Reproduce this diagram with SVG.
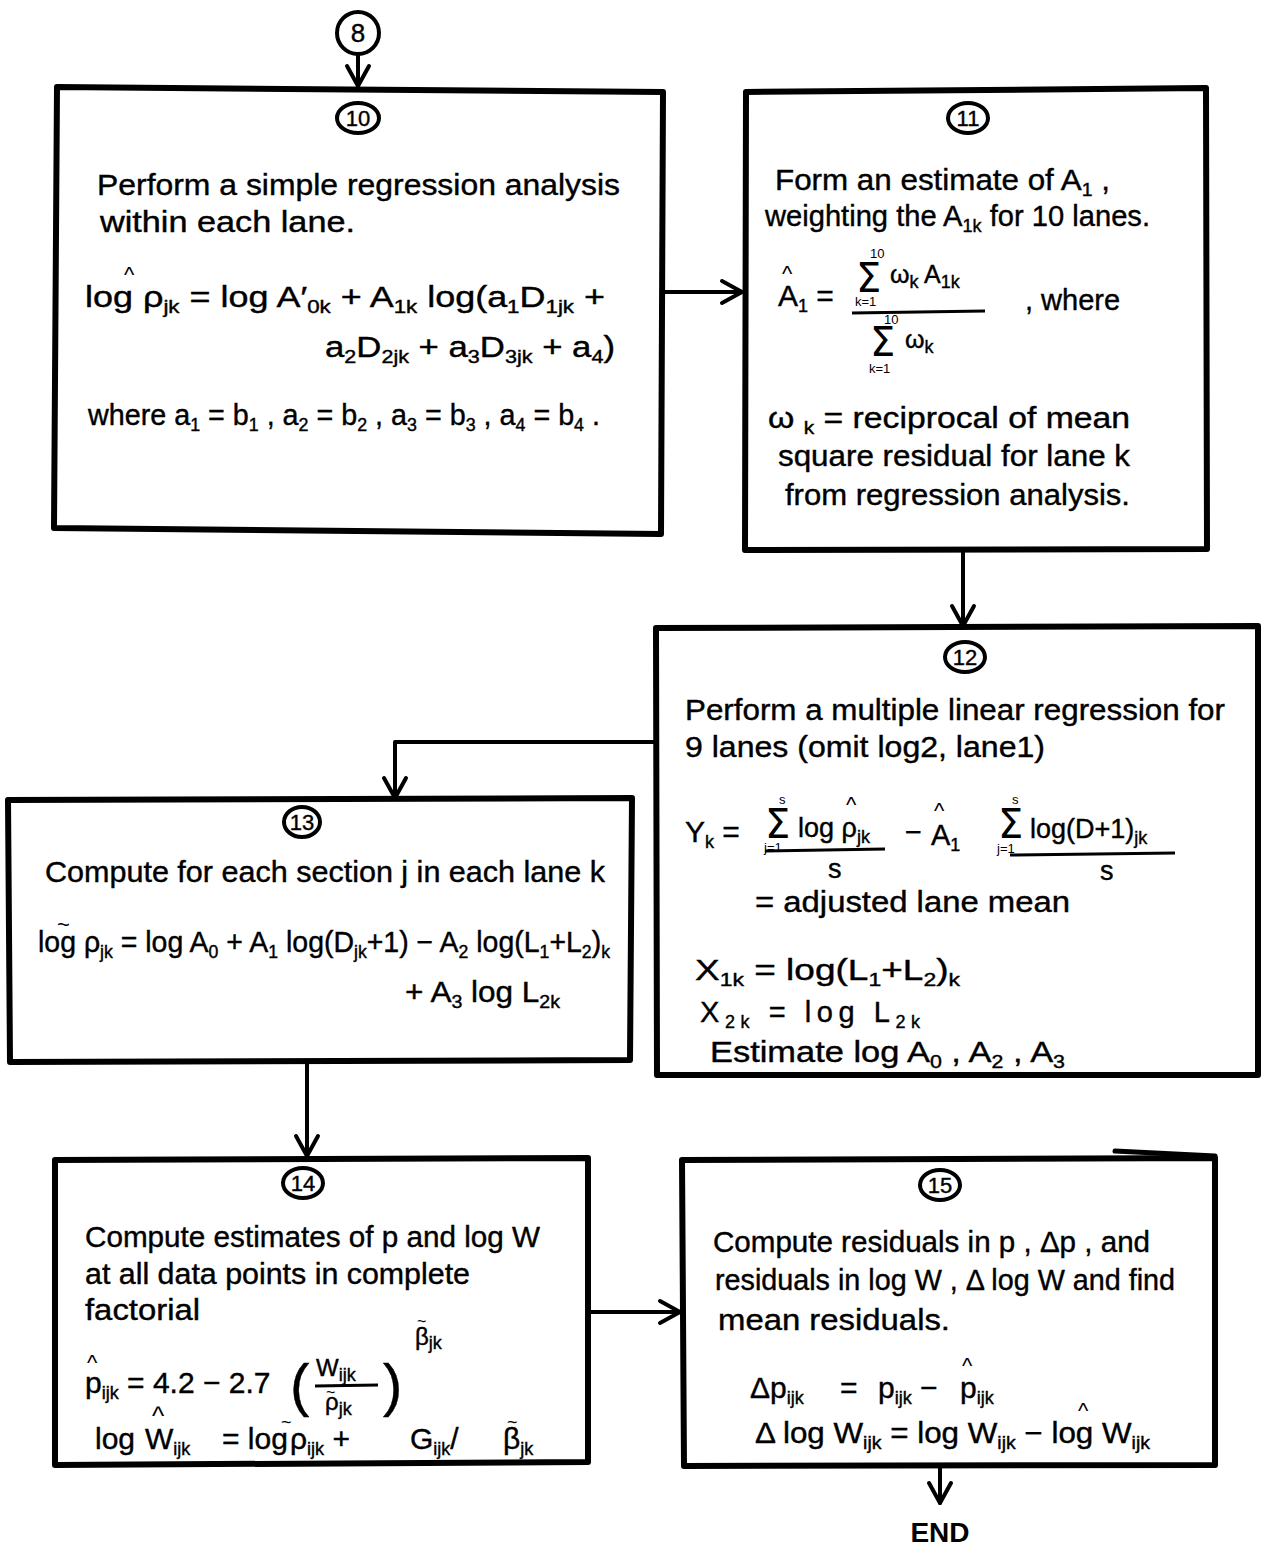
<svg xmlns="http://www.w3.org/2000/svg" width="1262" height="1545" viewBox="0 0 1262 1545">
<defs>
<style>
.box{fill:#fff;stroke:#000;stroke-width:6;stroke-linejoin:round}
.stray{fill:none;stroke:#000;stroke-width:5;stroke-linecap:round}
.circ{fill:#fff;stroke:#000;stroke-width:4}
.t{font-family:"Liberation Sans",Arial,sans-serif;font-size:29px;fill:#000;stroke:#000;stroke-width:0.4}
.num{font-family:"Liberation Sans",Arial,sans-serif;font-size:22px;fill:#000;text-anchor:middle;stroke:#000;stroke-width:0.4}
.s{font-size:18px}
.lim{font-family:"Liberation Sans",Arial,sans-serif;font-size:13px;fill:#000}
.sig{font-family:"DejaVu Sans",sans-serif;font-size:40px;fill:#000}
.acc{font-family:"Liberation Sans",Arial,sans-serif;font-size:22px;fill:#000}
.bar{stroke:#000;stroke-width:3;fill:none}
.conn{fill:none;stroke:#000;stroke-width:4;stroke-linecap:round;stroke-linejoin:round}
.end{font-family:"Liberation Sans",Arial,sans-serif;font-size:28px;font-weight:bold;fill:#000;text-anchor:middle}
</style>
<marker id="ah" viewBox="0 0 26 28" refX="23" refY="14" markerWidth="26" markerHeight="28" markerUnits="userSpaceOnUse" orient="auto">
<path d="M3,3 L23,14 L3,25" fill="none" stroke="#000" stroke-width="4" stroke-linecap="round" stroke-linejoin="round"/>
</marker>
</defs>
<rect width="1262" height="1545" fill="#fff"/>

<g id="connectors">
<path class="conn" d="M358,55 V86" marker-end="url(#ah)"/>
<path class="conn" d="M664,292 H742" marker-end="url(#ah)"/>
<path class="conn" d="M963,551 V626" marker-end="url(#ah)"/>
<path class="conn" d="M656,742 H395 V798" marker-end="url(#ah)"/>
<path class="conn" d="M307,1063 V1156" marker-end="url(#ah)"/>
<path class="conn" d="M588,1312 H680" marker-end="url(#ah)"/>
<path class="conn" d="M940,1467 V1503" marker-end="url(#ah)"/>
</g>

<g id="n8">
<ellipse class="circ" cx="358" cy="33" rx="21" ry="21"/>
<text class="num" x="358" y="42" style="font-size:26px">8</text>
</g>

<g id="n10">
<path class="box" d="M57,87 L663,92 L661,534 L54,528 Z"/>
<ellipse class="circ" cx="358" cy="118" rx="21" ry="15"/>
<text class="num" x="358" y="126">10</text>
<text class="t" x="97" y="195" textLength="523" lengthAdjust="spacingAndGlyphs">Perform a simple regression analysis</text>
<text class="t" x="100" y="232" textLength="255" lengthAdjust="spacingAndGlyphs">within each lane.</text>
<text class="acc" x="124" y="282">^</text>
<text class="t" x="85" y="307" textLength="520" lengthAdjust="spacingAndGlyphs">log <tspan>ρ</tspan><tspan class="s" dy="6">jk</tspan><tspan dy="-6"> = log A′</tspan><tspan class="s" dy="6">0k</tspan><tspan dy="-6"> + A</tspan><tspan class="s" dy="6">1k</tspan><tspan dy="-6"> log(a</tspan><tspan class="s" dy="6">1</tspan><tspan dy="-6">D</tspan><tspan class="s" dy="6">1jk</tspan><tspan dy="-6"> +</tspan></text>
<text class="t" x="325" y="357" textLength="290" lengthAdjust="spacingAndGlyphs">a<tspan class="s" dy="6">2</tspan><tspan dy="-6">D</tspan><tspan class="s" dy="6">2jk</tspan><tspan dy="-6"> + a</tspan><tspan class="s" dy="6">3</tspan><tspan dy="-6">D</tspan><tspan class="s" dy="6">3jk</tspan><tspan dy="-6"> + a</tspan><tspan class="s" dy="6">4</tspan><tspan dy="-6">)</tspan></text>
<text class="t" x="88" y="425" textLength="512" lengthAdjust="spacingAndGlyphs">where  a<tspan class="s" dy="6">1</tspan><tspan dy="-6"> = b</tspan><tspan class="s" dy="6">1</tspan><tspan dy="-6"> , a</tspan><tspan class="s" dy="6">2</tspan><tspan dy="-6"> = b</tspan><tspan class="s" dy="6">2</tspan><tspan dy="-6"> , a</tspan><tspan class="s" dy="6">3</tspan><tspan dy="-6"> = b</tspan><tspan class="s" dy="6">3</tspan><tspan dy="-6"> , a</tspan><tspan class="s" dy="6">4</tspan><tspan dy="-6"> = b</tspan><tspan class="s" dy="6">4</tspan><tspan dy="-6"> .</tspan></text>
</g>

<g id="n11">
<path class="box" d="M746,92 L1206,88 L1207,549 L745,550 Z"/>
<ellipse class="circ" cx="968" cy="118" rx="20" ry="15"/>
<text class="num" x="968" y="126">11</text>
<text class="t" x="775" y="190" textLength="335" lengthAdjust="spacingAndGlyphs">Form an estimate of A<tspan class="s" dy="6">1</tspan><tspan dy="-6"> ,</tspan></text>
<text class="t" x="765" y="226" textLength="385" lengthAdjust="spacingAndGlyphs">weighting the A<tspan class="s" dy="6">1k</tspan><tspan dy="-6"> for 10 lanes.</tspan></text>
<text class="acc" x="782" y="281">^</text>
<text class="t" x="778" y="306" style="font-size:30px">A<tspan class="s" dy="6">1</tspan><tspan dy="-6"> =</tspan></text>
<text class="sig" x="856" y="292">Σ</text>
<text class="lim" x="870" y="258">10</text>
<text class="lim" x="855" y="306">k=1</text>
<text class="t" x="890" y="283" style="font-size:25px">ω<tspan class="s" dy="5">k</tspan><tspan dy="-5"> A</tspan><tspan class="s" dy="5">1k</tspan></text>
<path class="bar" d="M852,313 L985,311"/>
<text class="sig" x="870" y="356">Σ</text>
<text class="lim" x="884" y="324">10</text>
<text class="lim" x="869" y="373">k=1</text>
<text class="t" x="905" y="348" style="font-size:25px">ω<tspan class="s" dy="5">k</tspan></text>
<text class="t" x="1025" y="310">, where</text>
<text class="t" x="768" y="428" textLength="362" lengthAdjust="spacingAndGlyphs">ω <tspan class="s" dy="6">k</tspan><tspan dy="-6"> = reciprocal of mean</tspan></text>
<text class="t" x="778" y="466" textLength="352" lengthAdjust="spacingAndGlyphs">square residual for lane k</text>
<text class="t" x="785" y="505" textLength="345" lengthAdjust="spacingAndGlyphs">from regression analysis.</text>
</g>

<g id="n12">
<path class="box" d="M656,628 L1258,626 L1258,1075 L657,1075 Z"/>
<ellipse class="circ" cx="965" cy="657" rx="20" ry="15"/>
<text class="num" x="965" y="665">12</text>
<text class="t" x="685" y="720" textLength="540" lengthAdjust="spacingAndGlyphs">Perform a multiple linear regression for</text>
<text class="t" x="685" y="757" textLength="360" lengthAdjust="spacingAndGlyphs">9 lanes (omit log2, lane1)</text>
<text class="t" x="685" y="842" style="font-size:30px">Y<tspan class="s" dy="6">k</tspan><tspan dy="-6"> =</tspan></text>
<text class="sig" x="765" y="838">Σ</text>
<text class="lim" x="779" y="804">s</text>
<text class="lim" x="764" y="852">j=1</text>
<text class="acc" x="846" y="812">^</text>
<text class="t" x="798" y="837" style="font-size:27px">log ρ<tspan class="s" dy="6">jk</tspan></text>
<path class="bar" d="M765,851 L885,849"/>
<text class="t" x="828" y="878" style="font-size:27px">s</text>
<text class="t" x="905" y="842">−</text>
<text class="acc" x="934" y="818">^</text>
<text class="t" x="931" y="845">A<tspan class="s" dy="6">1</tspan></text>
<text class="sig" x="998" y="838">Σ</text>
<text class="lim" x="1012" y="804">s</text>
<text class="lim" x="997" y="853">j=1</text>
<text class="t" x="1030" y="838" style="font-size:27px">log(D+1)<tspan class="s" dy="6">jk</tspan></text>
<path class="bar" d="M1010,855 L1175,853"/>
<text class="t" x="1100" y="880" style="font-size:27px">s</text>
<text class="t" x="755" y="912" textLength="315" lengthAdjust="spacingAndGlyphs">= adjusted lane mean</text>
<text class="t" x="695" y="980" textLength="265" lengthAdjust="spacingAndGlyphs">X<tspan class="s" dy="6">1k</tspan><tspan dy="-6"> = log(L</tspan><tspan class="s" dy="6">1</tspan><tspan dy="-6">+L</tspan><tspan class="s" dy="6">2</tspan><tspan dy="-6">)</tspan><tspan class="s" dy="6">k</tspan></text>
<text class="t" x="700" y="1022" textLength="220">X<tspan class="s" dy="6">2k</tspan><tspan dy="-6"> = log L</tspan><tspan class="s" dy="6">2k</tspan></text>
<text class="t" x="710" y="1062" textLength="355" lengthAdjust="spacingAndGlyphs">Estimate log A<tspan class="s" dy="6">0</tspan><tspan dy="-6"> , A</tspan><tspan class="s" dy="6">2</tspan><tspan dy="-6"> , A</tspan><tspan class="s" dy="6">3</tspan></text>
</g>

<g id="n13">
<path class="box" d="M8,800 L632,798 L630,1060 L10,1062 Z"/>
<ellipse class="circ" cx="302" cy="822" rx="18" ry="15"/>
<text class="num" x="302" y="830">13</text>
<text class="t" x="45" y="882" textLength="560" lengthAdjust="spacingAndGlyphs">Compute for each section j in each lane k</text>
<text class="acc" x="57" y="932">~</text>
<text class="t" x="38" y="952" textLength="572" lengthAdjust="spacingAndGlyphs">log ρ<tspan class="s" dy="6">jk</tspan><tspan dy="-6"> = log A</tspan><tspan class="s" dy="6">0</tspan><tspan dy="-6"> + A</tspan><tspan class="s" dy="6">1</tspan><tspan dy="-6"> log(D</tspan><tspan class="s" dy="6">jk</tspan><tspan dy="-6">+1) − A</tspan><tspan class="s" dy="6">2</tspan><tspan dy="-6"> log(L</tspan><tspan class="s" dy="6">1</tspan><tspan dy="-6">+L</tspan><tspan class="s" dy="6">2</tspan><tspan dy="-6">)</tspan><tspan class="s" dy="6">k</tspan></text>
<text class="t" x="405" y="1002" textLength="155" lengthAdjust="spacingAndGlyphs">+ A<tspan class="s" dy="6">3</tspan><tspan dy="-6"> log L</tspan><tspan class="s" dy="6">2k</tspan></text>
</g>

<g id="n14">
<path class="box" d="M55,1160 L588,1158 L588,1462 L55,1465 Z"/>
<ellipse class="circ" cx="303" cy="1183" rx="20" ry="15"/>
<text class="num" x="303" y="1191">14</text>
<text class="t" x="85" y="1247" textLength="455" lengthAdjust="spacingAndGlyphs">Compute estimates of p and log W</text>
<text class="t" x="85" y="1284" textLength="385" lengthAdjust="spacingAndGlyphs">at all data points in complete</text>
<text class="t" x="85" y="1320" textLength="115" lengthAdjust="spacingAndGlyphs">factorial</text>
<text class="acc" x="87" y="1370">^</text>
<text class="t" x="85" y="1393" style="font-size:30px">p<tspan class="s" dy="6">ijk</tspan><tspan dy="-6"> = 4.2 − 2.7</tspan></text>
<text class="t" x="290" y="1405" style="font-size:58px">(</text>
<text class="t" x="316" y="1376" style="font-size:24px">W<tspan class="s" dy="5">ijk</tspan></text>
<path class="bar" d="M315,1386 L378,1385"/>
<text class="acc" x="326" y="1398" style="font-size:16px">~</text>
<text class="t" x="325" y="1410" style="font-size:24px">ρ<tspan class="s" dy="5">jk</tspan></text>
<text class="t" x="383" y="1405" style="font-size:58px">)</text>
<text class="acc" x="417" y="1327" style="font-size:16px">~</text>
<text class="t" x="415" y="1345" style="font-size:24px">β<tspan class="s" dy="4">jk</tspan></text>
<text class="t" x="95" y="1449" style="font-size:30px">log</text>
<text class="acc" x="152" y="1425" style="font-size:26px">^</text>
<text class="t" x="145" y="1449" style="font-size:30px">W<tspan class="s" dy="6">ijk</tspan></text>
<text class="t" x="222" y="1449" style="font-size:30px">= log</text>
<text class="acc" x="281" y="1428" style="font-size:18px">~</text>
<text class="t" x="290" y="1449" style="font-size:30px">ρ<tspan class="s" dy="6">ijk</tspan><tspan dy="-6"> +</tspan></text>
<text class="t" x="410" y="1449" style="font-size:30px">G<tspan class="s" dy="6">ijk</tspan><tspan dy="-6">/</tspan></text>
<text class="acc" x="507" y="1428" style="font-size:18px">~</text>
<text class="t" x="503" y="1449" style="font-size:30px">β<tspan class="s" dy="6">jk</tspan></text>
</g>

<g id="n15">
<path class="box" d="M682,1160 L1215,1158 L1215,1465 L684,1466 Z"/>
<path class="stray" d="M1115,1151 L1215,1156"/>
<ellipse class="circ" cx="940" cy="1185" rx="20" ry="15"/>
<text class="num" x="940" y="1193">15</text>
<text class="t" x="713" y="1252" textLength="437" lengthAdjust="spacingAndGlyphs">Compute residuals in p , Δp , and</text>
<text class="t" x="715" y="1290" textLength="460" lengthAdjust="spacingAndGlyphs">residuals in log W , Δ log W and find</text>
<text class="t" x="718" y="1330" textLength="232" lengthAdjust="spacingAndGlyphs">mean residuals.</text>
<text class="t" x="750" y="1398" style="font-size:30px">Δp<tspan class="s" dy="6">ijk</tspan></text>
<text class="t" x="840" y="1398" style="font-size:30px">=</text>
<text class="t" x="878" y="1398" style="font-size:30px">p<tspan class="s" dy="6">ijk</tspan><tspan dy="-6"> −</tspan></text>
<text class="acc" x="962" y="1373">^</text>
<text class="t" x="960" y="1398" style="font-size:30px">p<tspan class="s" dy="6">ijk</tspan></text>
<text class="acc" x="1078" y="1418">^</text>
<text class="t" x="755" y="1443" textLength="395" lengthAdjust="spacingAndGlyphs">Δ log W<tspan class="s" dy="6">ijk</tspan><tspan dy="-6"> = log W</tspan><tspan class="s" dy="6">ijk</tspan><tspan dy="-6"> − log W</tspan><tspan class="s" dy="6">ijk</tspan></text>
</g>

<g id="end">
<text class="end" x="940" y="1542">END</text>
</g>
</svg>
